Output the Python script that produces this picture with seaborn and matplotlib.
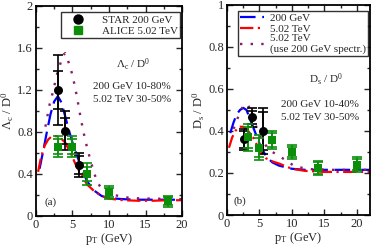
import numpy as np
import matplotlib
matplotlib.use("Agg")
import matplotlib.pyplot as plt
import seaborn as sns
from matplotlib.lines import Line2D
from matplotlib.ticker import MultipleLocator

# ---- panel (a): Lambda_c / D0 ----
a_blue_pt = [0.5, 1, 1.5, 2, 2.5, 3, 3.5, 4, 4.5, 5, 5.5, 6, 7, 8, 9, 10, 12, 14, 16, 18, 20]
a_blue_v = [0.45, 0.62, 0.80, 0.97, 1.09, 1.14, 1.08, 0.95, 0.82, 0.70, 0.60, 0.50, 0.33, 0.24,
            0.19, 0.17, 0.16, 0.155, 0.155, 0.155, 0.155]
a_red_pt = [0.3, 0.7, 1.2, 1.7, 2.2, 2.8, 3.4, 4, 4.5, 5, 5.5, 6, 7, 8, 9, 10, 12, 14, 16, 18, 20]
a_red_v = [0.42, 0.56, 0.67, 0.73, 0.76, 0.76, 0.74, 0.70, 0.63, 0.56, 0.48, 0.42, 0.30, 0.235,
           0.19, 0.165, 0.15, 0.145, 0.145, 0.15, 0.15]
a_pur_pt = [1.3, 1.6, 1.9, 2.4, 2.8, 3.3, 3.7, 4.0, 4.7, 5.1, 5.6, 6.0, 6.5, 7.0, 7.5, 8.0, 8.5,
            9.2, 10.6, 13.0, 16.0, 20.0]
a_pur_v = [0.85, 0.96, 1.07, 1.20, 1.33, 1.44, 1.53, 1.55, 1.42, 1.31, 1.14, 0.98, 0.80, 0.65,
           0.52, 0.40, 0.31, 0.24, 0.20, 0.17, 0.165, 0.16]

a_star_pt = [3.0, 4.0, 5.9]
a_star_v = [1.20, 0.81, 0.485]
a_star_stat = [0.18, 0.12, 0.085]
a_star_sys = [0.335, 0.185, 0.11]

a_alice_pt = [3.0, 5.0, 7.0, 10.0, 18.0]
a_alice_v = [0.66, 0.66, 0.40, 0.225, 0.14]
a_alice_stat = [0.07, 0.07, 0.07, 0.045, 0.04]
a_alice_sys = [0.10, 0.10, 0.105, 0.065, 0.055]

# ---- panel (b): Ds / D0 ----
b_blue_pt = [0.5, 1, 1.5, 2, 2.5, 3, 3.5, 4, 4.5, 5, 6, 7, 8, 10, 12, 15, 18, 22]
b_blue_v = [0.39, 0.44, 0.48, 0.50, 0.51, 0.50, 0.46, 0.42, 0.38, 0.34, 0.28, 0.25, 0.235, 0.22,
            0.215, 0.215, 0.215, 0.215]
b_red_pt = [0.3, 0.8, 1.3, 1.8, 2.5, 3, 3.5, 4, 4.5, 5, 6, 7, 8, 10, 12, 15, 18, 22]
b_red_v = [0.32, 0.37, 0.40, 0.42, 0.42, 0.41, 0.39, 0.37, 0.34, 0.31, 0.27, 0.255, 0.245, 0.22,
           0.21, 0.205, 0.205, 0.205]
b_pur_pt = [1.0, 1.5, 2, 2.5, 3, 3.3, 3.8, 4.5, 5, 6, 7, 8, 9, 10.5, 13, 16, 19, 22]
b_pur_v = [0.41, 0.45, 0.49, 0.52, 0.53, 0.52, 0.48, 0.42, 0.38, 0.33, 0.30, 0.28, 0.262, 0.23,
           0.218, 0.215, 0.215, 0.215]

b_star_pt = [2.6, 3.8, 5.6]
b_star_v = [0.36, 0.465, 0.40]
b_star_stat = [0.04, 0.03, 0.09]
b_star_sys = [0.05, 0.045, 0.11]

b_alice_pt = [3.3, 5.0, 7.0, 10.0, 14.0, 20.0]
b_alice_v = [0.37, 0.32, 0.357, 0.30, 0.224, 0.24]
b_alice_stat = [0.05, 0.045, 0.035, 0.025, 0.028, 0.028]
b_alice_sys = [0.065, 0.06, 0.045, 0.035, 0.035, 0.035]

BLUE = "#0000ff"
RED = "#ff0000"
PURPLE = "#8b1a6b"
GREEN = "#0b8f0b"

sns.set_style("ticks")
plt.rcParams["font.family"] = ["Liberation Serif", "DejaVu Serif"]
plt.rcParams["mathtext.fontset"] = "custom"
plt.rcParams["mathtext.rm"] = "Liberation Serif"
plt.rcParams["mathtext.it"] = "Liberation Serif"
plt.rcParams["font.size"] = 8

fig = plt.figure(figsize=(3.74, 2.46), dpi=100)
ax1 = fig.add_axes([0.096, 0.122, 0.391, 0.854])
ax2 = fig.add_axes([0.607, 0.126, 0.382, 0.854])


def curves(ax, bp, bv, rp, rv, pp, pv):
    sns.lineplot(x=bp, y=bv, ax=ax, color=BLUE, lw=1.6, linestyle=(0, (7, 3)))
    sns.lineplot(x=rp, y=rv, ax=ax, color=RED, lw=1.6, linestyle=(0, (6, 2, 1, 2)))
    sns.lineplot(x=pp, y=pv, ax=ax, color=PURPLE, lw=1.7, linestyle=(0, (1, 3.5)))


def points(ax, px, pv, stat, sys_, color, marker, ms):
    ax.errorbar(px, pv, yerr=sys_, fmt="none", ecolor=color, elinewidth=1.2, capsize=3.5,
                capthick=1.2, zorder=4)
    ax.errorbar(px, pv, yerr=stat, fmt="none", ecolor=color, elinewidth=1.2, capsize=3.5,
                capthick=1.2, zorder=4)
    sns.scatterplot(x=px, y=pv, ax=ax, color=color, marker=marker, s=ms, edgecolor=color,
                    linewidth=0, zorder=5)


curves(ax1, a_blue_pt, a_blue_v, a_red_pt, a_red_v, a_pur_pt, a_pur_v)
points(ax1, a_star_pt, a_star_v, a_star_stat, a_star_sys, "black", "o", 42)
points(ax1, a_alice_pt, a_alice_v, a_alice_stat, a_alice_sys, GREEN, "s", 35)

curves(ax2, b_blue_pt, b_blue_v, b_red_pt, b_red_v, b_pur_pt, b_pur_v)
points(ax2, b_star_pt, b_star_v, b_star_stat, b_star_sys, "black", "o", 42)
points(ax2, b_alice_pt, b_alice_v, b_alice_stat, b_alice_sys, GREEN, "s", 35)

ax1.set_xlim(0, 20)
ax1.set_ylim(0, 2)
ax1.yaxis.set_minor_locator(MultipleLocator(0.2))
ax1.set_yticks([0, 0.4, 0.8, 1.2, 1.6, 2])
ax1.set_yticklabels(["0", "0.4", "0.8", "1.2", "1.6", "2"])
ax1.set_ylabel(r"$\Lambda_{\rm c}$ / D$^0$", fontsize=9, labelpad=1)

ax2.set_xlim(0, 22)
ax2.set_ylim(0, 1)
ax2.set_yticks([0, 0.2, 0.4, 0.6, 0.8, 1])
ax2.set_yticklabels(["0", "0.2", "0.4", "0.6", "0.8", "1"])
ax2.yaxis.set_minor_locator(MultipleLocator(0.1))
ax2.set_ylabel(r"D$_{\rm s}$ / D$^0$", fontsize=9, labelpad=1)

for ax in (ax1, ax2):
    ax.set_xticks([0, 5, 10, 15, 20])
    ax.xaxis.set_minor_locator(MultipleLocator(2.5))
    ax.set_xlabel(r"p$_{\rm T}$ (GeV)", fontsize=9, labelpad=0)
    ax.tick_params(which="both", direction="in", top=True, right=True, labelsize=9, pad=2)
    ax.tick_params(which="major", length=4, width=1)
    ax.tick_params(which="minor", length=2.5, width=1)
    for s in ax.spines.values():
        s.set_linewidth(1.3)
        s.set_color("black")

# text annotations
ax1.text(0.664, 0.719, r"$\Lambda_{\rm c}$ / D$^0$", transform=ax1.transAxes, ha="center",
         va="center", fontsize=8)
ax1.text(0.655, 0.614, "200 GeV 10-80%", transform=ax1.transAxes, ha="center", va="center",
         fontsize=8)
ax1.text(0.655, 0.556, "5.02 TeV 30-50%", transform=ax1.transAxes, ha="center", va="center",
         fontsize=8)
ax1.text(0.062, 0.067, "(a)", transform=ax1.transAxes, va="center", fontsize=8)

ax2.text(0.69, 0.643, r"D$_{\rm s}$ / D$^0$", transform=ax2.transAxes, ha="center",
         va="center", fontsize=8)
ax2.text(0.65, 0.524, "200 GeV 10-40%", transform=ax2.transAxes, ha="center", va="center",
         fontsize=8)
ax2.text(0.65, 0.462, "5.02 TeV 30-50%", transform=ax2.transAxes, ha="center", va="center",
         fontsize=8)
ax2.text(0.047, 0.067, "(b)", transform=ax2.transAxes, va="center", fontsize=8)

# legends
h1 = [Line2D([], [], color="black", marker="o", ls="none", ms=6.5),
      Line2D([], [], color=GREEN, marker="s", ls="none", ms=5.5)]
leg1 = ax1.legend(h1, ["STAR 200 GeV", "ALICE 5.02 TeV"], loc="upper right",
                  bbox_to_anchor=(0.995, 0.975), frameon=True, fancybox=False, fontsize=8,
                  handletextpad=0.8, borderpad=0.25, labelspacing=0.1, handlelength=2.6,
                  borderaxespad=0.1)
leg1.get_frame().set_edgecolor("black")
leg1.get_frame().set_linewidth(1.0)

h2 = [Line2D([], [], color=BLUE, lw=1.6, ls=(0, (7, 3))),
      Line2D([], [], color=RED, lw=1.6, ls=(0, (6, 2, 1, 2))),
      Line2D([], [], color=PURPLE, lw=1.7, ls=(0, (1, 3.5)))]
leg2 = ax2.legend(h2, ["200 GeV", "5.02 TeV", "5.02 TeV\n(use 200 GeV spectr.)"],
                  loc="upper right", bbox_to_anchor=(0.995, 0.975), frameon=True,
                  fancybox=False, fontsize=8, handletextpad=0.5, borderpad=0.2,
                  labelspacing=0.05, handlelength=2.2, borderaxespad=0.1)
leg2.get_frame().set_edgecolor("black")
leg2.get_frame().set_linewidth(1.0)

fig.savefig("out.png", dpi=100)
